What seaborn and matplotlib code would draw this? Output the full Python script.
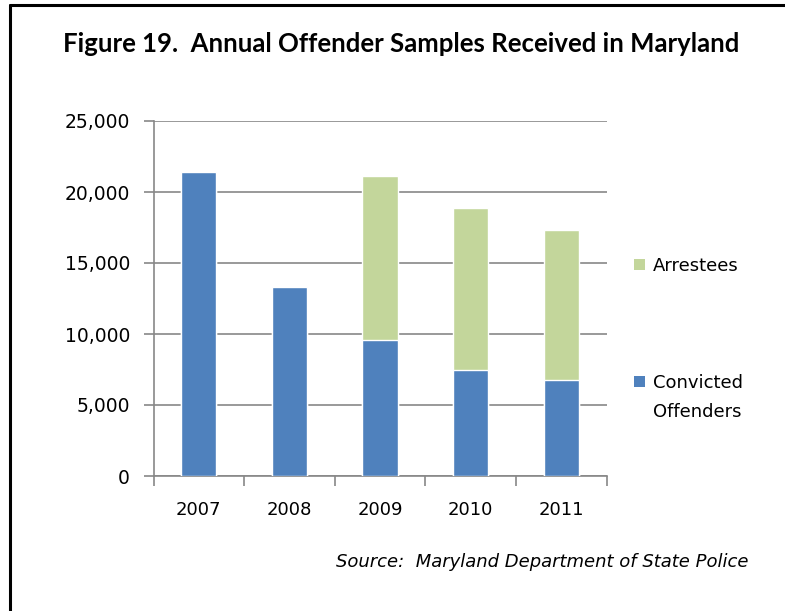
import numpy as np
import pandas as pd
import seaborn as sns
import matplotlib.pyplot as plt
from matplotlib.patches import Patch
from matplotlib.lines import Line2D

years = ["2007", "2008", "2009", "2010", "2011"]
convicted = [21400, 13300, 9600, 7450, 6750]
arrestees = [0, 0, 11500, 11400, 10600]
y_ticks = [0, 5000, 10000, 15000, 20000, 25000]

blue = "#4F81BD"
green = "#C3D69B"
grid_gray = "#878787"

df = pd.DataFrame({"year": years, "convicted": convicted, "arrestees": arrestees})
df["total"] = df["convicted"] + df["arrestees"]

sns.set_style("white")
plt.rcParams["font.family"] = ["DejaVu Sans"]
plt.rcParams["text.color"] = "black"

fig = plt.figure(figsize=(7.85, 6.11), dpi=100)
ax = fig.add_axes([153.5 / 785, 1 - 476 / 611, (606.5 - 153.5) / 785, (476 - 121) / 611])

# stacked bars: totals (green) underneath, convicted (blue) on top
sns.barplot(data=df, x="year", y="total", order=years, color=green, width=0.39,
            saturation=1, ax=ax, zorder=3)
sns.barplot(data=df, x="year", y="convicted", order=years, color=blue, width=0.39,
            saturation=1, ax=ax, zorder=4)

ax.set_ylim(0, 25000)
ax.set_xlim(-0.5, 4.5)
ax.set_yticks(y_ticks)
ax.set_yticklabels([f"{v:,}" for v in y_ticks])
ax.yaxis.grid(True, color=grid_gray, linewidth=1.2, zorder=0)
ax.set_axisbelow(True)
ax.set_xlabel("")
ax.set_ylabel("")

for side in ["top", "right"]:
    ax.spines[side].set_visible(False)
for side in ["left", "bottom"]:
    ax.spines[side].set_color(grid_gray)
    ax.spines[side].set_linewidth(1.2)

# x tick marks between categories, labels centred
ax.set_xticks(np.arange(len(years)))
ax.set_xticklabels(years)
ax.tick_params(axis="x", which="major", bottom=True, length=0, pad=18, labelsize=13,
               labelcolor="black")
ax.set_xticks(np.arange(-0.5, len(years)), minor=True)
ax.tick_params(axis="x", which="minor", bottom=True, length=7, width=1.2,
               color=grid_gray, direction="out")
ax.tick_params(axis="y", left=True, length=7, width=1.2, color=grid_gray, direction="out",
               labelsize=13.5, pad=10, labelcolor="black")

# legend, Excel style: square next to first line of each label
leg_kw = dict(frameon=False, fontsize=13, handlelength=0.62, handleheight=0.62,
              handletextpad=0.45, borderpad=0, borderaxespad=0,
              bbox_transform=fig.transFigure)
leg1 = ax.legend([Patch(facecolor=green, edgecolor="none")], ["Arrestees"],
                 loc="center left", bbox_to_anchor=(634 / 785, 1 - 266 / 611), **leg_kw)
ax.add_artist(leg1)
ax.legend([Patch(facecolor=blue, edgecolor="none"), Patch(facecolor="none", edgecolor="none")],
          ["Convicted", "Offenders"], loc="upper left", labelspacing=0.62,
          bbox_to_anchor=(634 / 785, 1 - 374 / 611), **leg_kw)

fig.text(63 / 785, 1 - 44 / 611, "Figure 19.  Annual Offender Samples Received in Maryland",
         family="Lato", fontsize=18.5, fontweight="bold", va="center", ha="left")
fig.text(748 / 785, 1 - 562 / 611, "Source:  Maryland Department of State Police",
         fontsize=13, style="italic", va="center", ha="right")

# black frame lines on left and top
fig.add_artist(Line2D([10 / 785, 10 / 785], [0, 1 - 5 / 611], transform=fig.transFigure,
                      color="black", linewidth=2.2))
fig.add_artist(Line2D([10 / 785, 1], [1 - 5 / 611, 1 - 5 / 611], transform=fig.transFigure,
                      color="black", linewidth=2.2))

fig.savefig("out.png", dpi=100)
